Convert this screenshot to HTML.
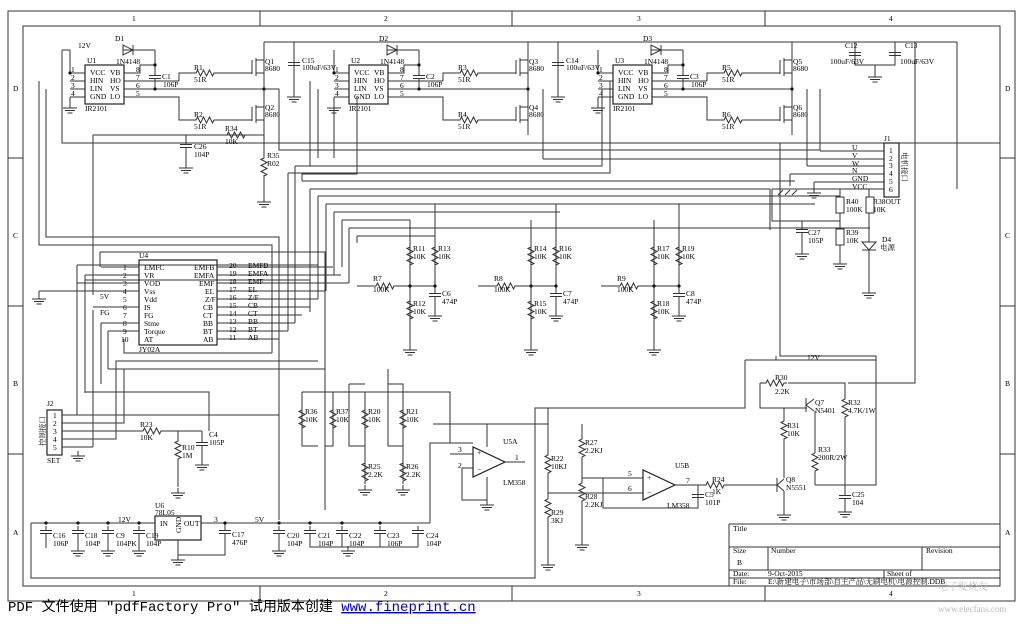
<!DOCTYPE html>
<html><head><meta charset="utf-8"><style>
body{margin:0;background:#fff}
svg{display:block}
text{font-family:"Liberation Serif","Noto Serif CJK SC",serif;font-size:7.5px;fill:#000}
.w{fill:none;stroke:#333;stroke-width:1}
.b{fill:none;stroke:#222;stroke-width:1.2}
</style></head><body>
<svg width="1023" height="624" viewBox="0 0 1023 624" xmlns="http://www.w3.org/2000/svg">
<defs>
<path id="rh" d="M-12,0h3l1.5,-3l3,6l3,-6l3,6l3,-6l3,6l1.5,-3h3" fill="none" stroke="#333"/>
<path id="rv" d="M0,-12v3l-3,1.5l6,3l-6,3l6,3l-6,3l6,3l-3,1.5v3" fill="none" stroke="#333"/>
<path id="gnd" d="M0,-5v5M-7,0h14M-5,2.5h10M-2.5,5h5" fill="none" stroke="#333"/>
<path id="cv" d="M0,-6v4.5M-6,-1.5h12M-6,1.5h12M0,1.5v4.5" fill="none" stroke="#333"/>
<circle id="d" r="1.6" fill="#111"/>
<g id="hb">
 <rect x="85" y="65" width="39" height="39" class="b"/>
 <text x="85" y="111">IR2101</text>
 <text x="90" y="75">VCC</text><text x="90" y="83">HIN</text><text x="90" y="91">LIN</text><text x="90" y="99">GND</text>
 <text x="110" y="75">VB</text><text x="110" y="83">HO</text><text x="110" y="91">VS</text><text x="110" y="99">LO</text>
 <text x="71" y="72">1</text><text x="71" y="80">2</text><text x="71" y="88">3</text><text x="71" y="96">4</text>
 <text x="136" y="72">8</text><text x="136" y="80">7</text><text x="136" y="88">6</text><text x="136" y="96">5</text>
 <path class="w" d="M70,73h15M70,81h15M70,89h15M70,97h15M70,73V50M70,97V105M124,73h16V65h15M124,81h16M124,89h140M124,97h55V120h14M155,50h-32M155,50V65M155,65V74M155,80V89M217,120h35M217,73h35M179,81V73h14M140,81h39"/>
 <path d="M123,45v10l10,-5z" fill="none" stroke="#333"/><path d="M133,45v10" stroke="#333"/>
 <text x="116" y="64">1N4148</text>
 <use href="#cv" x="155" y="77"/><text x="163" y="87">106P</text>
 <use href="#rh" x="205" y="73"/><text x="194" y="82">51R</text>
 <use href="#rh" x="205" y="120"/><text x="194" y="129">51R</text>
 <path class="w" d="M252,60v14M256,58v18M256,60h8M256,73h8M264,42V135M252,107v14M256,105v18M256,107h8M256,120h8"/>
 <text x="265" y="71">8680</text><text x="265" y="117">8680</text>
 <use href="#d" x="155" y="65"/><use href="#d" x="155" y="89"/><use href="#d" x="264" y="89"/><use href="#d" x="70" y="73"/>
 <use href="#gnd" x="70" y="108"/>
</g>
</defs>
<rect x="8" y="11" width="1007" height="590" fill="none" stroke="#333"/>
<rect x="23" y="26" width="977" height="560" fill="none" stroke="#333"/>
<path class="w" d="M260,11v15M512,11v15M765,11v15M260,586v15M512,586v15M765,586v15M8,158h15M8,306h15M8,454h15M1000,158h15M1000,306h15M1000,454h15"/>
<text x="132" y="21">1</text><text x="384" y="21">2</text><text x="637" y="21">3</text><text x="889" y="21">4</text>
<text x="132" y="596">1</text><text x="384" y="596">2</text><text x="637" y="596">3</text><text x="889" y="596">4</text>
<text x="13" y="91">D</text><text x="13" y="238">C</text><text x="13" y="386">B</text><text x="13" y="535">A</text>
<text x="1005" y="91">D</text><text x="1005" y="238">C</text><text x="1005" y="386">B</text><text x="1005" y="535">A</text>
<use href="#hb"/>
<use href="#hb" x="264"/>
<use href="#hb" x="528"/>
<text x="87" y="63">U1</text><text x="115" y="41">D1</text><text x="162" y="79">C1</text><text x="194" y="70">R1</text><text x="194" y="117">R2</text><text x="265" y="64">Q1</text><text x="265" y="110">Q2</text>
<text x="351" y="63">U2</text><text x="379" y="41">D2</text><text x="426" y="79">C2</text><text x="458" y="70">R3</text><text x="458" y="117">R4</text><text x="529" y="64">Q3</text><text x="529" y="110">Q4</text>
<text x="615" y="63">U3</text><text x="643" y="41">D3</text><text x="690" y="79">C3</text><text x="722" y="70">R5</text><text x="722" y="117">R6</text><text x="793" y="64">Q5</text><text x="793" y="110">Q6</text>
<text x="78" y="48">12V</text>
<path class="w" d="M264,42H957M62,50H70M62,50V143H1000M294,42V92M558,42V92M855,42V65H895V42M875,65V72"/>
<use href="#cv" x="294" y="64"/><text x="302" y="63">C15</text><text x="302" y="70">100uF/63V</text><use href="#gnd" x="294" y="97"/>
<use href="#cv" x="558" y="64"/><text x="566" y="63">C14</text><text x="566" y="70">100uF/63V</text><use href="#gnd" x="558" y="97"/>
<use href="#cv" x="855" y="54"/><use href="#cv" x="895" y="54"/><text x="845" y="48">C12</text><text x="905" y="48">C13</text>
<text x="830" y="64">100uF/63V</text><text x="900" y="64">100uF/63V</text><use href="#gnd" x="875" y="77"/>
<path class="w" d="M264,135V155M93,135H264M186,135V142M186,148V163M264,175V197"/>
<use href="#rh" x="236" y="135"/><text x="225" y="131">R34</text><text x="225" y="144">10K</text>
<use href="#cv" x="186" y="146"/><text x="194" y="149">C26</text><text x="194" y="157">104P</text><use href="#gnd" x="186" y="168"/>
<use href="#rv" x="264" y="167"/><text x="267" y="158">R35</text><text x="267" y="166">R02</text><use href="#gnd" x="264" y="202"/>
<path class="w" d="M93,135V295M264,89H279V150H820V89M543,89V159M807,89V166"/>
<!-- bus lines -->
<path class="w" d="M39,81V245H272V353M46,89V237H279V520M302,181V174H357V96M310,166V81M318,158V89M326,150H620M334,97V158M288,173H610V81M295,166H602V89"/>
<path class="w" d="M288,173V331M295,166V323M302,181H795M310,189H770V230M318,196H840M326,204H815M334,212H560M342,220H410M349,228H870M357,236H435"/>
<path class="w" d="M310,189V307M318,196V299M326,204V291M334,212V275M342,220V267M349,228V283M357,236V243"/>
<path class="w" d="M100,252H325V510M77,265H318M77,265V310M85,280H310V312"/>
<!-- U4 -->
<rect x="139" y="260" width="78" height="85" class="b"/>
<text x="139" y="258">U4</text><text x="139" y="352">JY02A</text>
<text x="144" y="270">EMFC</text><text x="144" y="278">VR</text><text x="144" y="286">VOD</text><text x="144" y="294">Vss</text><text x="144" y="302">Vdd</text><text x="144" y="310">IS</text><text x="144" y="318">FG</text><text x="144" y="326">Stme</text><text x="144" y="334">Torque</text><text x="144" y="342">AT</text>
<text x="194" y="270">EMFB</text><text x="194" y="278">EMFA</text><text x="199" y="286">EMF</text><text x="205" y="294">EL</text><text x="205" y="302">Z/F</text><text x="203" y="310">CB</text><text x="203" y="318">CT</text><text x="203" y="326">BB</text><text x="203" y="334">BT</text><text x="203" y="342">AB</text>
<text x="123" y="270">1</text><text x="123" y="278">2</text><text x="123" y="286">3</text><text x="123" y="294">4</text><text x="123" y="302">5</text><text x="123" y="310">6</text><text x="123" y="318">7</text><text x="123" y="326">8</text><text x="123" y="334">9</text><text x="121" y="342">10</text>
<text x="229" y="268">20</text><text x="229" y="276">19</text><text x="229" y="284">18</text><text x="229" y="292">17</text><text x="229" y="300">16</text><text x="229" y="308">15</text><text x="229" y="316">14</text><text x="229" y="324">13</text><text x="229" y="332">12</text><text x="229" y="340">11</text>
<text x="248" y="268">EMFB</text><text x="248" y="276">EMFA</text><text x="248" y="284">EMF</text><text x="248" y="292">EL</text><text x="248" y="300">Z/F</text><text x="248" y="308">CB</text><text x="248" y="316">CT</text><text x="248" y="324">BB</text><text x="248" y="332">BT</text><text x="248" y="340">AB</text>
<text x="100" y="299">5V</text><text x="100" y="315">FG</text>
<path class="w" d="M101,267H139M85,275H139M77,283H139M39,291H139M39,291V296M93,307H139M100,267V252M217,267H333M217,275H341M217,283H349M217,291H325M217,299H318M217,307H310M217,315H302M217,323H295M217,331H288M217,339H279M101,323H139M108,331H139M124,339V353H272M101,323V384M108,331V369M85,275V393"/>
<use href="#gnd" x="39" y="299"/>
<!-- J2 -->
<rect x="47" y="410" width="15" height="45" class="b"/><text x="47" y="406">J2</text><text x="47" y="463">SET</text>
<text x="53" y="418">1</text><text x="53" y="426">2</text><text x="53" y="434">3</text><text x="53" y="442">4</text><text x="53" y="450">5</text>
<text transform="translate(45,446) rotate(-90)">控制接口</text>
<path class="w" d="M62,415H279M62,423H124V369H318M62,431H140M164,431H202M62,439H116V361H318M62,447H93M77,415V280M93,447V310M178,431V438M178,462V487M202,431V440M202,448V460M209,431V392H85M108,369H325"/>
<use href="#rh" x="152" y="431"/><text x="140" y="427">R23</text><text x="140" y="440">10K</text>
<use href="#rv" x="178" y="450"/><text x="182" y="450">R10</text><text x="182" y="458">1M</text><use href="#gnd" x="178" y="493"/>
<use href="#cv" x="202" y="444"/><text x="209" y="437">C4</text><text x="209" y="445">105P</text><use href="#gnd" x="202" y="465"/>
<use href="#gnd" x="78" y="456"/>
<!-- regulator -->
<rect x="155" y="516" width="46" height="24" class="b"/><text x="155" y="508">U6</text><text x="155" y="515">78L05</text>
<text x="160" y="526">IN</text><text x="184" y="526">OUT</text><text transform="translate(181,533) rotate(-90)">GND</text>
<text x="118" y="522">12V</text><text x="255" y="522">5V</text><text x="214" y="522">3</text>
<path class="w" d="M31,523H155M201,523H430M31,523V578H535V408H577M178,540V557M225,523V530M225,536V555H178M310,538V547H418M342,535V547M380,535V547"/>
<g><use href="#cv" x="46" y="532"/><use href="#cv" x="78" y="532"/><use href="#cv" x="108" y="532"/><use href="#cv" x="139" y="532"/><use href="#cv" x="225" y="532"/><use href="#cv" x="279" y="532"/><use href="#cv" x="310" y="532"/><use href="#cv" x="342" y="532"/><use href="#cv" x="380" y="532"/><use href="#cv" x="418" y="532"/></g>
<path class="w" d="M46,538V548M78,538V548M108,538V548M139,538V548M279,538V548M418,538V547M380,538V547M430,523V443H473"/>
<use href="#gnd" x="78" y="551"/><use href="#gnd" x="108" y="551"/><use href="#gnd" x="139" y="551"/><use href="#gnd" x="178" y="560"/><use href="#gnd" x="279" y="551"/><use href="#gnd" x="348" y="551"/>
<text x="53" y="538">C16</text><text x="53" y="546">106P</text><text x="85" y="538">C18</text><text x="85" y="546">104P</text><text x="116" y="538">C9</text><text x="116" y="546">104PK</text><text x="146" y="538">C19</text><text x="146" y="546">104P</text><text x="232" y="537">C17</text><text x="232" y="545">476P</text><text x="287" y="538">C20</text><text x="287" y="546">104P</text><text x="318" y="538">C21</text><text x="318" y="546">104P</text><text x="349" y="538">C22</text><text x="349" y="546">104P</text><text x="387" y="538">C23</text><text x="387" y="546">106P</text><text x="426" y="538">C24</text><text x="426" y="546">104P</text>
<g fill="#111"><circle cx="46" cy="523" r="1.6"/><circle cx="78" cy="523" r="1.6"/><circle cx="108" cy="523" r="1.6"/><circle cx="139" cy="523" r="1.6"/><circle cx="225" cy="523" r="1.6"/><circle cx="279" cy="523" r="1.6"/><circle cx="310" cy="523" r="1.6"/><circle cx="342" cy="523" r="1.6"/><circle cx="380" cy="523" r="1.6"/></g>
<!-- R36.. -->
<path class="w" d="M302,392H450V443M302,392V446H318M333,392V446H325M365,392V480M403,392V480M349,384H365M388,384H403V392M450,443H473M365,446H349V384M403,446H388V369"/>
<use href="#rv" x="302" y="419"/><use href="#rv" x="333" y="419"/><use href="#rv" x="365" y="419"/><use href="#rv" x="403" y="419"/>
<use href="#rv" x="365" y="472"/><use href="#rv" x="403" y="472"/><use href="#gnd" x="365" y="490"/><use href="#gnd" x="403" y="490"/>
<text x="305" y="414">R36</text><text x="305" y="422">10K</text><text x="336" y="414">R37</text><text x="336" y="422">10K</text><text x="368" y="414">R20</text><text x="368" y="422">10K</text><text x="406" y="414">R21</text><text x="406" y="422">10K</text>
<text x="368" y="469">R25</text><text x="368" y="477">2.2K</text><text x="406" y="469">R26</text><text x="406" y="477">2.2K</text>
<!-- U5A -->
<path d="M473,447V477L505,462Z" class="b"/><text x="477" y="455">+</text><text x="477" y="472">−</text>
<text x="503" y="444">U5A</text><text x="503" y="485">LM358</text><text x="458" y="452">3</text><text x="458" y="468">2</text><text x="515" y="460">1</text>
<path class="w" d="M450,454H473M462,468H473M462,468V500H487V495M487,424V447M487,477V500M505,462H525M433,424H548"/>
<use href="#gnd" x="487" y="505"/>
<!-- RC groups -->
<g id="rc">
<path class="w" d="M410,220V286M435,204V286M410,286H435M410,286V345M435,286V292M435,298V312M357,286H373M397,286H410"/>
<use href="#rv" x="410" y="256"/><use href="#rv" x="435" y="256"/><use href="#rh" x="385" y="286"/><use href="#rv" x="410" y="310"/><use href="#cv" x="435" y="295"/>
<use href="#gnd" x="410" y="350"/><use href="#gnd" x="435" y="316"/>
<use href="#d" x="410" y="286"/><use href="#d" x="435" y="286"/>
</g>
<use href="#rc" x="121"/><use href="#rc" x="244"/>
<text x="413" y="251">R11</text><text x="413" y="259">10K</text><text x="438" y="251">R13</text><text x="438" y="259">10K</text><text x="373" y="281">R7</text><text x="373" y="292">100K</text><text x="442" y="296">C6</text><text x="442" y="304">474P</text><text x="413" y="306">R12</text><text x="413" y="314">10K</text>
<text x="534" y="251">R14</text><text x="534" y="259">10K</text><text x="559" y="251">R16</text><text x="559" y="259">10K</text><text x="494" y="281">R8</text><text x="494" y="292">100K</text><text x="563" y="296">C7</text><text x="563" y="304">474P</text><text x="534" y="306">R15</text><text x="534" y="314">10K</text>
<text x="657" y="251">R17</text><text x="657" y="259">10K</text><text x="682" y="251">R19</text><text x="682" y="259">10K</text><text x="617" y="281">R9</text><text x="617" y="292">100K</text><text x="686" y="296">C8</text><text x="686" y="304">474P</text><text x="657" y="306">R18</text><text x="657" y="314">10K</text>
<!-- J1 right -->
<rect x="884" y="143" width="15" height="54" class="b"/><text x="884" y="141">J1</text>
<text x="889" y="153">1</text><text x="889" y="161">2</text><text x="889" y="168">3</text><text x="889" y="176">4</text><text x="889" y="184">5</text><text x="889" y="192">6</text>
<text x="852" y="150">U</text><text x="852" y="158">V</text><text x="852" y="166">W</text><text x="852" y="173">N</text><text x="852" y="181">GND</text><text x="852" y="189">VCC</text>
<text transform="translate(902,152) rotate(90)">电机接口</text>
<path class="w" d="M820,151H884M543,159H884M807,166H884M790,174H884M790,174V186M814,182H884M814,182V188M772,189H884M772,189V221H840M840,189V197M840,213V229M840,245V260M869,189V197M869,213V242M869,250V290M802,221V228M802,234V250M612,143H780V356H876V383M957,42V189"/>
<use href="#gnd" x="814" y="193"/><use href="#gnd" x="840" y="264"/><use href="#gnd" x="869" y="293"/><use href="#gnd" x="802" y="254"/>
<path class="w" d="M783,190l-5,5M790,190l-5,5M797,190l-5,5"/>
<rect x="836" y="197" width="8" height="16" fill="#fff" stroke="#333"/><rect x="836" y="229" width="8" height="16" fill="#fff" stroke="#333"/><rect x="866" y="197" width="8" height="16" fill="#fff" stroke="#333"/>
<text x="846" y="204">R40</text><text x="846" y="212">100K</text><text x="846" y="235">R39</text><text x="846" y="243">10K</text><text x="873" y="204">R38OUT</text><text x="873" y="212">10K</text>
<use href="#cv" x="802" y="231"/><text x="808" y="235">C27</text><text x="808" y="243">105P</text>
<path d="M862,242h14l-7,8z" fill="none" stroke="#333"/><path d="M862,250h14" stroke="#333"/><text x="882" y="242">D4</text><text x="880" y="250">电源</text>
<path class="w" d="M915,42V383H848"/>
<!-- 12V bottom right -->
<text x="807" y="360">12V</text>
<path class="w" d="M745,360H876V485H815M745,360V408H548V440M776,360V356M760,383H763M788,383H845V396M760,383V408H784V418M784,408H807M815,411V450M815,474V485M784,442V478M784,491V510M727,485H777M845,420V491M845,503V507"/>
<use href="#rh" x="775" y="383"/><text x="775" y="380">R30</text><text x="775" y="394">2.2K</text>
<path class="w" d="M806,398v14M806,405l8,-6M806,405l8,6"/><text x="815" y="405">Q7</text><text x="815" y="413">N5401</text>
<use href="#rv" x="784" y="430"/><text x="787" y="428">R31</text><text x="787" y="436">10K</text>
<use href="#rv" x="845" y="408"/><text x="848" y="405">R32</text><text x="848" y="413">4.7K/1W</text>
<use href="#rv" x="815" y="462"/><text x="818" y="452">R33</text><text x="818" y="460">200R/2W</text>
<use href="#cv" x="845" y="497"/><text x="852" y="497">C25</text><text x="852" y="505">104</text><use href="#gnd" x="845" y="512"/>
<path class="w" d="M777,478v14M777,485l7,-6M777,485l7,6"/><text x="786" y="482">Q8</text><text x="786" y="490">N5551</text><use href="#gnd" x="784" y="515"/>
<!-- U5B -->
<path class="w" d="M548,408V452M548,476V496M548,520V560M582,424V436M582,460V480M582,504V540M582,478H643M548,493H643M603,478V508H698V487M675,485H703M698,485V490M698,502V508"/>
<use href="#rv" x="548" y="464"/><use href="#rv" x="548" y="508"/><use href="#rv" x="582" y="448"/><use href="#rv" x="582" y="492"/>
<use href="#gnd" x="582" y="545"/><use href="#gnd" x="548" y="565"/>
<text x="551" y="461">R22</text><text x="551" y="469">10KJ</text><text x="551" y="515">R29</text><text x="551" y="523">3KJ</text><text x="585" y="445">R27</text><text x="585" y="453">2.2KJ</text><text x="585" y="499">R28</text><text x="585" y="507">2.2KJ</text>
<path d="M643,470V500L675,485Z" fill="#fff" stroke="#222" stroke-width="1.2"/><text x="647" y="480">+</text><text x="647" y="495">−</text>
<text x="675" y="468">U5B</text><text x="667" y="508">LM358</text><text x="628" y="476">5</text><text x="628" y="491">6</text><text x="686" y="483">7</text>
<use href="#rh" x="715" y="485"/><text x="712" y="482">R24</text><text x="712" y="494">1K</text>
<use href="#cv" x="698" y="496"/><text x="705" y="497">C5</text><text x="705" y="505">101P</text>
<!-- title block -->
<path class="w" d="M729,524H1000M729,524V586M729,547H1000M729,570H1000M729,578H1000M768,547V570M922,547V570M884,570V578"/>
<text x="733" y="531">Title</text><text x="733" y="553">Size</text><text x="737" y="565">B</text><text x="771" y="553">Number</text><text x="926" y="553">Revision</text>
<text x="733" y="576">Date:</text><text x="768" y="576">9-Oct-2015</text><text x="887" y="576">Sheet  of</text>
<text x="733" y="584">File:</text><text x="768" y="584">E:\新建电子\市场部\自主产品\无刷电机\电源控制.DDB</text>
<text x="938" y="590" style="font-size:10px;fill:#bbb">电子发烧友</text>
<text x="8" y="611" style="font-family:'Liberation Mono','Noto Sans CJK SC',monospace;font-size:14px">PDF 文件使用 "pdfFactory Pro" 试用版本创建 <tspan fill="#00c" text-decoration="underline">www.fineprint.cn</tspan></text>
<text x="938" y="612" style="font-size:9px;fill:#bbb">www.elecfans.com</text>
</svg>
</body></html>
